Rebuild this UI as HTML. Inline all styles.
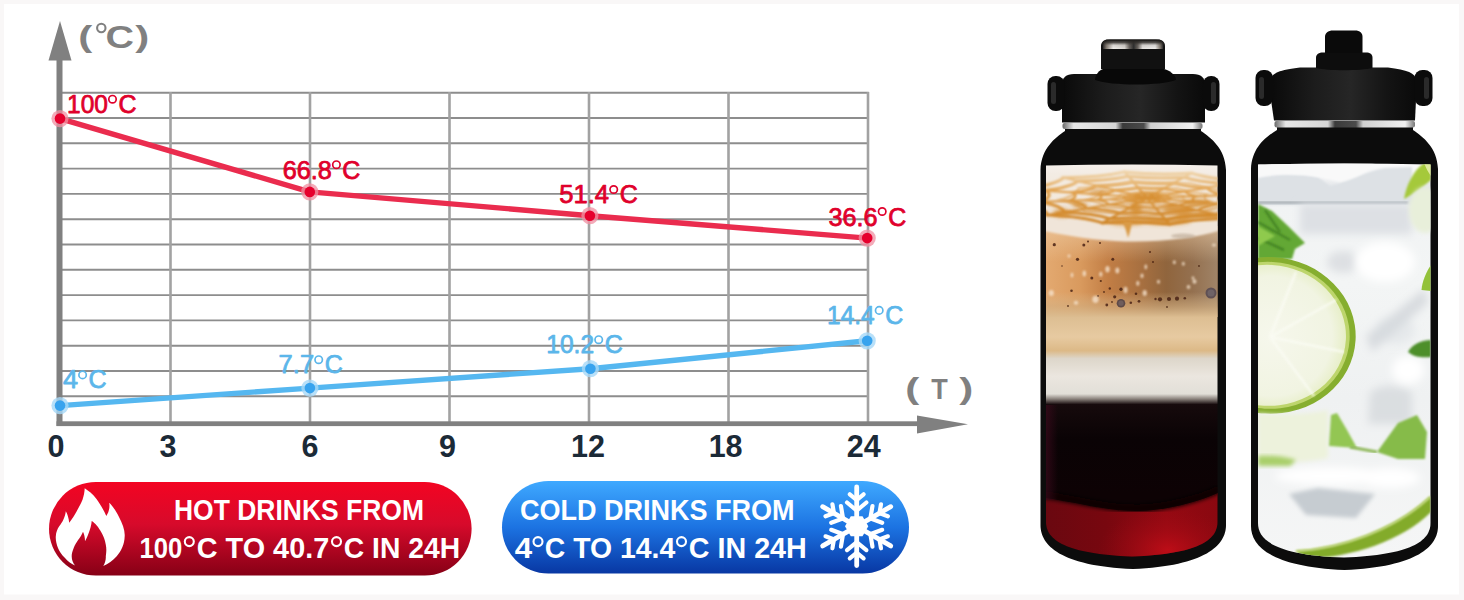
<!DOCTYPE html>
<html><head><meta charset="utf-8">
<style>
html,body{margin:0;padding:0;background:#f9f7f7;}
body{width:1464px;height:600px;overflow:hidden;font-family:"Liberation Sans",sans-serif;}
svg{display:block;position:absolute;left:0;top:0}
text{font-family:"Liberation Sans",sans-serif;font-weight:bold}
#labels text{font-weight:normal}
</style></head><body>
<svg width="1464" height="600" viewBox="0 0 1464 600">
<defs>
<linearGradient id="gRed" x1="0" y1="0" x2="0" y2="1">
<stop offset="0" stop-color="#f30422"/><stop offset="0.45" stop-color="#d70a2b"/><stop offset="1" stop-color="#860016"/>
</linearGradient>
<linearGradient id="gBlue" x1="0" y1="0" x2="0" y2="1">
<stop offset="0" stop-color="#3fa9ff"/><stop offset="0.5" stop-color="#1c73e2"/><stop offset="1" stop-color="#0837a3"/>
</linearGradient>
</defs>
<rect x="4" y="4" width="1455" height="590.5" fill="#ffffff"/>

<!-- GRID -->
<g id="grid" stroke="#8d8d8d" stroke-width="1.9" fill="none">
<path d="M60 92.7H868.8M60 118H868.8M60 143.3H868.8M60 168.6H868.8M60 193.9H868.8M60 219.2H868.8M60 244.5H868.8M60 269.8H868.8M60 295.1H868.8M60 320.4H868.8M60 345.7H868.8M60 371H868.8M60 396.3H868.8"/>
<path d="M170.5 92V424M310 92V424M449.5 92V424M589 92V424M728.5 92V424M868 92V424" stroke="#a2a2a2" stroke-width="2.6"/>
</g>
<!-- AXES -->
<g id="axes" fill="#808080">
<rect x="56.5" y="58" width="6" height="368"/>
<path d="M60 21L71.5 60.5H48.5Z"/>
<rect x="56.5" y="421.3" width="865" height="4.8"/>
<path d="M968 424.3L917 415.6V433.6Z"/>
</g>
<!-- LINES -->
<g id="lines" fill="none" stroke-linecap="round" stroke-linejoin="round">
<path d="M60 118.6L309.8 191.9L589.9 215.7L867.2 238.1" stroke="#ea2c4e" stroke-width="5.4"/>
<path d="M60 405.6L309.9 388.1L590.4 368.7L867.2 340.8" stroke="#55b7f0" stroke-width="5.4"/>
</g>
<g id="dots">
<g fill="#f08fa2" fill-opacity="0.75"><circle cx="60" cy="118.6" r="8.6"/><circle cx="309.8" cy="191.9" r="8.6"/><circle cx="589.9" cy="215.7" r="8.6"/><circle cx="867.2" cy="238.1" r="8.6"/></g>
<g fill="#e6002d"><circle cx="60" cy="118.6" r="5.3"/><circle cx="309.8" cy="191.9" r="5.3"/><circle cx="589.9" cy="215.7" r="5.3"/><circle cx="867.2" cy="238.1" r="5.3"/></g>
<g fill="#a6d8f7" fill-opacity="0.8"><circle cx="60" cy="405.6" r="8.6"/><circle cx="309.9" cy="388.1" r="8.6"/><circle cx="590.4" cy="368.7" r="8.6"/><circle cx="867.2" cy="340.8" r="8.6"/></g>
<g fill="#38a3ee"><circle cx="60" cy="405.6" r="5.3"/><circle cx="309.9" cy="388.1" r="5.3"/><circle cx="590.4" cy="368.7" r="5.3"/><circle cx="867.2" cy="340.8" r="5.3"/></g>
</g>
<!-- LABELS -->
<g id="labels" font-size="25" font-weight="normal" stroke-width="0.75" stroke-linejoin="round" style="font-weight:normal">
<g fill="#e0002b" stroke="#e0002b"><text x="67.0" y="112.5" textLength="40.9" lengthAdjust="spacingAndGlyphs">100</text><circle cx="112.5" cy="99.2" r="3.7" fill="none" stroke="#e0002b" stroke-width="1.7"/><text x="136.5" y="112.5" text-anchor="end">C</text></g>
<g fill="#e0002b" stroke="#e0002b"><text x="282.7" y="178.7" textLength="49.1" lengthAdjust="spacingAndGlyphs">66.8</text><circle cx="336.4" cy="164.7" r="3.7" fill="none" stroke="#e0002b" stroke-width="1.7"/><text x="360.4" y="178.7" text-anchor="end">C</text></g>
<g fill="#e0002b" stroke="#e0002b"><text x="559.3" y="203.4" textLength="49.8" lengthAdjust="spacingAndGlyphs">51.4</text><circle cx="613.7" cy="189.5" r="3.7" fill="none" stroke="#e0002b" stroke-width="1.7"/><text x="637.7" y="203.4" text-anchor="end">C</text></g>
<g fill="#e0002b" stroke="#e0002b"><text x="828.5" y="225.8" textLength="49.1" lengthAdjust="spacingAndGlyphs">36.6</text><circle cx="882.2" cy="211.5" r="3.7" fill="none" stroke="#e0002b" stroke-width="1.7"/><text x="906.2" y="225.8" text-anchor="end">C</text></g>
<g fill="#5bb6ea" stroke="#5bb6ea"><text x="63.0" y="387.7" textLength="15.0" lengthAdjust="spacingAndGlyphs">4</text><circle cx="82.6" cy="374.9" r="3.7" fill="none" stroke="#5bb6ea" stroke-width="1.7"/><text x="106.6" y="387.7" text-anchor="end">C</text></g>
<g fill="#5bb6ea" stroke="#5bb6ea"><text x="278.6" y="373.4" textLength="35.5" lengthAdjust="spacingAndGlyphs">7.7</text><circle cx="318.7" cy="359.7" r="3.7" fill="none" stroke="#5bb6ea" stroke-width="1.7"/><text x="342.7" y="373.4" text-anchor="end">C</text></g>
<g fill="#5bb6ea" stroke="#5bb6ea"><text x="546.3" y="353.4" textLength="47.8" lengthAdjust="spacingAndGlyphs">10.2</text><circle cx="598.7" cy="339.7" r="3.7" fill="none" stroke="#5bb6ea" stroke-width="1.7"/><text x="622.7" y="353.4" text-anchor="end">C</text></g>
<g fill="#5bb6ea" stroke="#5bb6ea"><text x="827.1" y="324.4" textLength="47.5" lengthAdjust="spacingAndGlyphs">14.4</text><circle cx="879.2" cy="310.4" r="3.7" fill="none" stroke="#5bb6ea" stroke-width="1.7"/><text x="903.2" y="324.4" text-anchor="end">C</text></g>
</g>
<g id="units" fill="#808080" font-size="29">
<text transform="translate(78.3,47) scale(1.45,1)">(</text>
<circle cx="101.3" cy="28" r="4.2" fill="none" stroke="#808080" stroke-width="2.1"/>
<text transform="translate(105.6,47.6) scale(1.36,1.1)">C</text>
<text transform="translate(135.2,47) scale(1.45,1)">)</text>
<text transform="translate(905.3,398.8) scale(1.45,1)">(</text>
<text transform="translate(931.2,399.2) scale(0.9,1)" font-size="30">T</text>
<text transform="translate(959.2,398.8) scale(1.45,1)">)</text>
</g>
<g id="ticks" fill="#1b2a37" font-size="30.5" text-anchor="middle">
<text x="56" y="456.5">0</text>
<text x="168" y="456.5">3</text>
<text x="310" y="456.5">6</text>
<text x="447.5" y="456.5">9</text>
<text x="588" y="456.5">12</text>
<text x="725.6" y="456.5">18</text>
<text x="863.8" y="456.5">24</text>
</g>
<!-- PILLS -->
<g id="pills">
<rect x="49" y="482" width="422.6" height="93.6" rx="46.8" fill="url(#gRed)"/>
<rect x="502" y="481" width="407" height="92.6" rx="46.3" fill="url(#gBlue)"/>
<g fill="#ffffff" font-size="29">
<text x="174" y="519.6" textLength="250" lengthAdjust="spacingAndGlyphs">HOT DRINKS FROM</text>
<text x="139.4" y="558" textLength="42.8" lengthAdjust="spacingAndGlyphs">100</text><circle cx="189.3" cy="541.6" r="4.5" fill="none" stroke="#ffffff" stroke-width="2.1"/><text x="196.8" y="558" textLength="132.4" lengthAdjust="spacingAndGlyphs">C TO 40.7</text><circle cx="336.5" cy="541.6" r="4.5" fill="none" stroke="#ffffff" stroke-width="2.1"/><text x="343.8" y="558" textLength="116.4" lengthAdjust="spacingAndGlyphs">C IN 24H</text>
<text x="520" y="519.6" textLength="274.6" lengthAdjust="spacingAndGlyphs">COLD DRINKS FROM</text>
<text x="514.8" y="558" textLength="17.4" lengthAdjust="spacingAndGlyphs">4</text><circle cx="538" cy="541.6" r="4.5" fill="none" stroke="#ffffff" stroke-width="2.1"/><text x="544.8" y="558" textLength="130.4" lengthAdjust="spacingAndGlyphs">C TO 14.4</text><circle cx="681.5" cy="541.6" r="4.5" fill="none" stroke="#ffffff" stroke-width="2.1"/><text x="688.8" y="558" textLength="118.0" lengthAdjust="spacingAndGlyphs">C IN 24H</text>
</g>
</g>
<g id="flame" fill="#ffffff">
<path d="M84.700 488.300C88 490.500 93 494 96.500 499C100 504 104 510.500 106.300 516C109 512 110 507 109.200 502.700C112 505 116 511 119 517C122.500 524 125 530 124.700 536C124.500 545 121 551 116.700 556.300C113 560.500 108 564 103.300 566C105 563 106 560 105.800 556.300C106.500 551 106.500 548 105.800 544.700C105 540 103.500 536 101.700 533C100 530 98.500 527.500 96.700 525.500C95 523.500 93.500 522 91.700 521C91.500 525 90 529.500 88.700 533C87.700 536 86.200 539 85 541.300C85 537.500 84.200 534 83 531.700C82 534.500 80 537.500 78.300 539.700C76.500 542.300 74.800 545 73.700 548C72.500 551 71.700 553.500 71.700 556.300C71.700 560 73 563 75 565.500C71 564 67.500 561 65 558C61.500 554.500 59 551 58 548C56.500 544 55.500 540 55.800 536.300C56 532 57.500 529 59.200 526.300C60.800 524 62.300 522 63.300 519.700C64.500 517 65.500 514.500 65.800 511.300C67.500 514 68.800 518.500 69.200 522.700C72 519.500 74.500 515.500 76.700 511.300C79 507 81 503.500 82.500 499.700C83.800 496 84.600 492 84.700 488.300Z"/>
</g>
<g id="snow" stroke="#ffffff" fill="none" stroke-linecap="round">
<polygon points="845,526.300 850.800,516.300 862.500,516.300 868.300,526.300 862.500,536.300 850.800,536.300" fill="#ffffff" stroke="none"/>
<g transform="rotate(0 856.700 526.300)"><path d="M856.700 526.300V487" stroke-width="4.800"/><path d="M847 502.500L856.700 510.500L866.400 502.500M849.800 494.300L856.700 500L863.600 494.300" stroke-width="4.200"/></g>
<g transform="rotate(60 856.700 526.300)"><path d="M856.700 526.300V487" stroke-width="4.800"/><path d="M847 502.500L856.700 510.500L866.400 502.500M849.800 494.300L856.700 500L863.600 494.300" stroke-width="4.200"/></g>
<g transform="rotate(120 856.700 526.300)"><path d="M856.700 526.300V487" stroke-width="4.800"/><path d="M847 502.500L856.700 510.500L866.400 502.500M849.800 494.300L856.700 500L863.600 494.300" stroke-width="4.200"/></g>
<g transform="rotate(180 856.700 526.300)"><path d="M856.700 526.300V487" stroke-width="4.800"/><path d="M847 502.500L856.700 510.500L866.400 502.500M849.800 494.300L856.700 500L863.600 494.300" stroke-width="4.200"/></g>
<g transform="rotate(240 856.700 526.300)"><path d="M856.700 526.300V487" stroke-width="4.800"/><path d="M847 502.500L856.700 510.500L866.400 502.500M849.800 494.300L856.700 500L863.600 494.300" stroke-width="4.200"/></g>
<g transform="rotate(300 856.700 526.300)"><path d="M856.700 526.300V487" stroke-width="4.800"/><path d="M847 502.500L856.700 510.500L866.400 502.500M849.800 494.300L856.700 500L863.600 494.300" stroke-width="4.200"/></g>
</g>
<defs>
<clipPath id="winL"><path d="M1046 165.5Q1132 163.5 1217.5 165.5V522C1217.5 540 1198 554 1132 556.5C1066 554 1046 540 1046 522Z"/></clipPath>
<clipPath id="winR"><path d="M1258 164.5Q1344 162.5 1430.5 164.5V523C1430.5 541 1411 555 1344 557.5C1277 555 1258 541 1258 523Z"/></clipPath>
<linearGradient id="coffee" gradientUnits="userSpaceOnUse" x1="0" y1="164" x2="0" y2="557">
<stop offset="0" stop-color="#f6f1ec"/>
<stop offset="0.025" stop-color="#f3ece4"/>
<stop offset="0.06" stop-color="#f3eadf"/>
<stop offset="0.15" stop-color="#f1e6da"/>
<stop offset="0.195" stop-color="#eee2d6"/>
<stop offset="0.205" stop-color="#d9a06c"/>
<stop offset="0.27" stop-color="#c88f5f"/>
<stop offset="0.34" stop-color="#a87850"/>
<stop offset="0.362" stop-color="#9b7352"/>
<stop offset="0.385" stop-color="#dcbd91"/>
<stop offset="0.44" stop-color="#e7caa1"/>
<stop offset="0.475" stop-color="#dcb987"/>
<stop offset="0.495" stop-color="#ddd6ca"/>
<stop offset="0.54" stop-color="#ebe6df"/>
<stop offset="0.585" stop-color="#e2dfd8"/>
<stop offset="0.598" stop-color="#8a827c"/>
<stop offset="0.612" stop-color="#160a0c"/>
<stop offset="0.7" stop-color="#0a0305"/>
<stop offset="0.84" stop-color="#0d0204"/>
<stop offset="1" stop-color="#0d0204"/>
</linearGradient>
<linearGradient id="redL" gradientUnits="userSpaceOnUse" x1="1046" y1="0" x2="1218" y2="0">
<stop offset="0" stop-color="#6a0810"/><stop offset="0.35" stop-color="#78070f"/><stop offset="0.7" stop-color="#940912"/><stop offset="1" stop-color="#8a0810"/>
</linearGradient>
<radialGradient id="redHi"><stop offset="0" stop-color="#c40e18" stop-opacity="0.85"/><stop offset="0.5" stop-color="#b00c16" stop-opacity="0.4"/><stop offset="1" stop-color="#a00a14" stop-opacity="0"/></radialGradient>
<linearGradient id="purpEdge" x1="0" y1="0" x2="1" y2="0"><stop offset="0" stop-color="#3a0a1c" stop-opacity="0.7"/><stop offset="1" stop-color="#3a0a1c" stop-opacity="0"/></linearGradient>
<linearGradient id="tanH" gradientUnits="userSpaceOnUse" x1="1046" y1="0" x2="1218" y2="0"><stop offset="0" stop-color="#e3a970"/><stop offset="0.2" stop-color="#d99a5e"/><stop offset="0.36" stop-color="#c27e45"/><stop offset="0.55" stop-color="#a87040"/><stop offset="0.7" stop-color="#90653d"/><stop offset="0.85" stop-color="#94704f"/><stop offset="1" stop-color="#a08468"/></linearGradient>
<linearGradient id="tanFade" gradientUnits="userSpaceOnUse" x1="0" y1="292" x2="0" y2="317"><stop offset="0" stop-color="#dcbd91" stop-opacity="0"/><stop offset="0.55" stop-color="#d3b184" stop-opacity="0.6"/><stop offset="1" stop-color="#dcbd91" stop-opacity="1"/></linearGradient>
<linearGradient id="tanTop" gradientUnits="userSpaceOnUse" x1="0" y1="226" x2="0" y2="262"><stop offset="0" stop-color="#f0cfa8" stop-opacity="0.6"/><stop offset="1" stop-color="#f0cfa8" stop-opacity="0"/></linearGradient>
<linearGradient id="tanShade" gradientUnits="userSpaceOnUse" x1="1046" y1="0" x2="1218" y2="0">
<stop offset="0" stop-color="#e0a060" stop-opacity="0.35"/><stop offset="0.45" stop-color="#c08858" stop-opacity="0"/><stop offset="1" stop-color="#5a3a28" stop-opacity="0.35"/>
</linearGradient>
<linearGradient id="ring" x1="0" y1="0" x2="1" y2="0">
<stop offset="0" stop-color="#6a6a6a"/><stop offset="0.08" stop-color="#e8e8e8"/><stop offset="0.38" stop-color="#d5d5d5"/><stop offset="0.43" stop-color="#3a3a3a"/><stop offset="0.58" stop-color="#4a4a4a"/><stop offset="0.63" stop-color="#d0d0d0"/><stop offset="0.93" stop-color="#f0f0f0"/><stop offset="1" stop-color="#777"/>
</linearGradient>
<linearGradient id="spoutBand" x1="0" y1="0" x2="1" y2="0"><stop offset="0" stop-color="#2a2a2a"/><stop offset="0.06" stop-color="#8a8178"/><stop offset="0.17" stop-color="#f2efec"/><stop offset="0.36" stop-color="#dcd8d3"/><stop offset="0.44" stop-color="#6a645f"/><stop offset="0.51" stop-color="#2c2c2c"/><stop offset="0.58" stop-color="#6a645f"/><stop offset="0.66" stop-color="#e8e5e2"/><stop offset="0.87" stop-color="#f0eeec"/><stop offset="0.95" stop-color="#8a8178"/><stop offset="1" stop-color="#2a2a2a"/></linearGradient>
<linearGradient id="spoutTop" x1="0" y1="0" x2="0" y2="1"><stop offset="0" stop-color="#1e1c1a" stop-opacity="1"/><stop offset="0.3" stop-color="#2e2b28" stop-opacity="0.85"/><stop offset="0.6" stop-color="#3a3632" stop-opacity="0.15"/><stop offset="1" stop-color="#3a3632" stop-opacity="0"/></linearGradient>
<linearGradient id="capShade" x1="0" y1="0" x2="1" y2="0">
<stop offset="0" stop-color="#0a0a0a"/><stop offset="0.3" stop-color="#1c1c1c"/><stop offset="0.55" stop-color="#262626"/><stop offset="0.8" stop-color="#141414"/><stop offset="1" stop-color="#0a0a0a"/>
</linearGradient>
<filter id="b05" x="-20%" y="-20%" width="140%" height="140%"><feGaussianBlur stdDeviation="0.5"/></filter>
<filter id="b1" x="-20%" y="-20%" width="140%" height="140%"><feGaussianBlur stdDeviation="1"/></filter>
<filter id="b2" x="-20%" y="-20%" width="140%" height="140%"><feGaussianBlur stdDeviation="2"/></filter>
<filter id="b4" x="-30%" y="-30%" width="160%" height="160%"><feGaussianBlur stdDeviation="4"/></filter>
<filter id="b8" x="-40%" y="-40%" width="180%" height="180%"><feGaussianBlur stdDeviation="8"/></filter>
</defs>

<!-- LEFT BOTTLE -->
<g id="bottleL">
<!-- body -->
<path d="M1065 128H1201V131C1211 138 1225 148 1226 170V525C1226 545 1206 566 1133 569C1060 566 1040.500 545 1040.500 525V170C1041.500 148 1055 138 1065 131Z" fill="#0c0c0c"/>
<!-- window -->
<g clip-path="url(#winL)">
<rect x="1040" y="160" width="190" height="400" fill="url(#coffee)"/>
<rect x="1040" y="228" width="190" height="89" fill="url(#tanH)"/>
<rect x="1040" y="226" width="190" height="36" fill="url(#tanTop)"/>
<rect x="1040" y="292" width="190" height="25" fill="url(#tanFade)"/>
<g id="foamtop">
<defs><linearGradient id="car" gradientUnits="userSpaceOnUse" x1="0" y1="172" x2="0" y2="224"><stop offset="0" stop-color="#efd3a8"/><stop offset="0.35" stop-color="#e2a452"/><stop offset="1" stop-color="#cf8528"/></linearGradient></defs>
<path d="M1040 200V230C1080 238.500 1110 241.500 1134 241.500C1170 241.500 1200 237 1225 229V200Z" fill="#f0e5d9" filter="url(#b1)"/>

<g fill="none" stroke="url(#car)" stroke-linecap="round" filter="url(#b1)">
<path d="M1169.5 199.7Q1163.9 200.4 1162.4 201.8Q1155.7 201.8 1151.1 202.8Q1145.2 202.2 1138.8 202.6Q1135.1 201.4 1128.6 201.1Q1128.3 199.8 1123.4 198.8Q1126.4 197.6 1124.5 196.3Q1130.1 195.6 1131.6 194.2Q1138.3 194.2 1142.9 193.2Q1148.8 193.8 1155.2 193.4Q1158.9 194.6 1165.4 194.9Q1165.7 196.2 1170.6 197.2Q1167.6 198.4 1169.5 199.7" stroke-width="2.6"/>
<path d="M1194.3 201.5Q1182.5 203.1 1179.4 205.9Q1165.3 206.0 1155.7 208.1Q1143.2 206.8 1129.7 207.7Q1122.1 205.2 1108.4 204.6Q1107.7 201.7 1097.4 199.8Q1103.8 197.2 1099.7 194.5Q1111.5 192.9 1114.6 190.1Q1128.7 190.0 1138.3 187.9Q1150.8 189.2 1164.3 188.3Q1171.9 190.8 1185.6 191.4Q1186.3 194.3 1196.6 196.2Q1190.2 198.8 1194.3 201.5" stroke-width="2.4"/>
<path d="M1221.4 203.5Q1202.8 206.0 1197.9 210.4Q1175.7 210.6 1160.7 213.9Q1141.0 211.9 1119.8 213.2Q1107.9 209.4 1086.3 208.4Q1085.2 203.9 1069.0 200.8Q1079.2 196.8 1072.6 192.5Q1091.2 190.0 1096.1 185.6Q1118.3 185.4 1133.3 182.1Q1153.0 184.1 1174.2 182.8Q1186.1 186.6 1207.7 187.6Q1208.8 192.1 1225.0 195.2Q1214.8 199.2 1221.4 203.5" stroke-width="2.8"/>
<path d="M1248.5 205.6Q1223.0 208.9 1216.3 214.9Q1186.2 215.2 1165.7 219.7Q1138.8 216.9 1110.0 218.7Q1093.7 213.5 1064.2 212.2Q1062.8 206.0 1040.6 201.8Q1054.5 196.3 1045.5 190.4Q1071.0 187.1 1077.7 181.1Q1107.8 180.8 1128.3 176.3Q1155.2 179.1 1184.0 177.3Q1200.3 182.5 1229.8 183.8Q1231.2 190.0 1253.4 194.2Q1239.5 199.7 1248.5 205.6" stroke-width="3.2"/>
<path d="M1268.7 207.1Q1238.2 211.1 1230.2 218.3Q1194.0 218.6 1169.4 224.1Q1137.2 220.7 1102.6 222.9Q1083.0 216.6 1047.6 215.0Q1045.9 207.6 1019.3 202.6Q1036.0 196.0 1025.3 188.9Q1055.8 184.9 1063.8 177.7Q1100.0 177.4 1124.6 171.9Q1156.8 175.3 1191.4 173.1Q1211.0 179.4 1246.4 181.0Q1248.1 188.4 1274.7 193.4Q1258.0 200.0 1268.7 207.1" stroke-width="3.0"/>
<path d="M1147 198L1271.0 207.2M1147 198L1231.8 218.7M1147 198L1169.8 224.5M1147 198L1101.7 223.3M1147 198L1045.8 215.3M1147 198L1017.0 202.7M1147 198L1023.0 188.8M1147 198L1062.2 177.3M1147 198L1124.2 171.5M1147 198L1192.3 172.7M1147 198L1248.2 180.7M1147 198L1277.0 193.3" stroke-width="2.2"/>
</g>
<g fill="none" stroke="url(#car)" stroke-linecap="round" filter="url(#b1)" opacity="0.6"><path d="M1170.0 205.1Q1156.8 204.9 1145.3 206.2Q1135.8 204.4 1122.8 203.9Q1121.4 201.4 1113.1 199.3Q1120.4 197.2 1120.6 194.6Q1133.2 193.9 1141.9 191.9Q1153.9 193.0 1166.9 192.5Q1172.8 194.9 1184.1 196.2Q1181.0 198.7 1185.3 201.2Q1174.7 202.7 1170.0 205.1" stroke-width="2.0"/><path d="M1183.3 209.2Q1161.4 208.9 1142.2 211.0Q1126.3 208.0 1104.7 207.2Q1102.3 202.9 1088.5 199.6Q1100.6 196.0 1101.0 191.7Q1122.0 190.4 1136.5 187.2Q1156.6 188.9 1178.2 188.2Q1188.0 192.1 1206.8 194.3Q1201.7 198.5 1208.8 202.6Q1191.2 205.2 1183.3 209.2" stroke-width="2.2"/><path d="M1198.4 213.8Q1166.6 213.4 1138.6 216.5Q1115.5 212.1 1084.2 210.9Q1080.6 204.7 1060.5 199.8Q1078.1 194.6 1078.7 188.3Q1109.3 186.6 1130.3 181.8Q1159.6 184.3 1191.1 183.4Q1205.3 189.0 1232.7 192.2Q1225.2 198.3 1235.5 204.2Q1209.9 208.0 1198.4 213.8" stroke-width="2.6"/></g>
<g fill="#d48a2c" filter="url(#b2)" opacity="0.75">
<ellipse cx="1178" cy="209" rx="15" ry="4.5"/>
<ellipse cx="1199" cy="203" rx="13" ry="4"/>
<ellipse cx="1127" cy="222" rx="18" ry="3.5"/>
<ellipse cx="1165" cy="221" rx="26" ry="3.5"/>
<ellipse cx="1147" cy="197" rx="14" ry="4"/>
<ellipse cx="1098" cy="192" rx="9" ry="2.5"/>
<ellipse cx="1062" cy="213" rx="9" ry="4"/>
<ellipse cx="1207" cy="215" rx="12" ry="3.5"/>
<ellipse cx="1136" cy="209" rx="6" ry="7"/>
<ellipse cx="1080" cy="205" rx="8" ry="2.5"/><ellipse cx="1188" cy="216" rx="12" ry="3"/>
</g>
<path d="M1123 222Q1127 233 1128 238Q1130 233 1132 222Z" fill="#d99a45" filter="url(#b1)"/>
<ellipse cx="1183" cy="236" rx="12" ry="2.500" fill="#b9a692" opacity="0.6" filter="url(#b1)"/>
</g>
<g id="bubbles">
<g fill="#4a2414" opacity="0.85" filter="url(#b05)"><circle cx="1054.3" cy="244.7" r="1.6"/><circle cx="1083.8" cy="245" r="1.5"/><circle cx="1077.5" cy="259.3" r="1.6"/><circle cx="1112.8" cy="259.3" r="1.5"/><circle cx="1091.8" cy="278" r="1.5"/><circle cx="1100.8" cy="281" r="1.1"/><circle cx="1071.5" cy="290.8" r="1.3"/><circle cx="1109.8" cy="288.5" r="1.2"/><circle cx="1121" cy="289.3" r="1.7"/><circle cx="1114.7" cy="296.8" r="1.6"/><circle cx="1106.8" cy="305" r="1.4"/><circle cx="1130.8" cy="302.8" r="1.3"/><circle cx="1139" cy="301.3" r="1.4"/><circle cx="1136" cy="293.8" r="1.3"/><circle cx="1155.5" cy="299" r="1.2"/><circle cx="1160" cy="299.3" r="2.1"/><circle cx="1169" cy="299" r="2.1"/><circle cx="1177" cy="298.7" r="2.1"/><circle cx="1184.8" cy="298.3" r="1.3"/><circle cx="1088" cy="241.5" r="1"/><circle cx="1100" cy="243" r="1"/><circle cx="1150" cy="252" r="1"/><circle cx="1153" cy="262" r="1"/><circle cx="1104" cy="292" r="0.9"/><circle cx="1098" cy="296" r="0.9"/><circle cx="1112" cy="302" r="0.9"/><circle cx="1068" cy="306" r="0.9"/><circle cx="1167" cy="307" r="0.9"/><circle cx="1199" cy="266" r="0.9"/><circle cx="1062" cy="266" r="0.8"/></g>
<g fill="#f5e2cc" opacity="0.8" filter="url(#b1)"><ellipse cx="1107.5" cy="269.3" rx="2.2" ry="3.2"/><ellipse cx="1117.3" cy="270.5" rx="2" ry="3"/><ellipse cx="1084.3" cy="273.5" rx="1.8" ry="3"/><ellipse cx="1100.8" cy="274.3" rx="1.6" ry="2.8"/><ellipse cx="1095.5" cy="299.3" rx="3.2" ry="3.6"/><ellipse cx="1125.5" cy="290" rx="2" ry="3.2"/><ellipse cx="1144.7" cy="293" rx="2.2" ry="3"/><ellipse cx="1137.8" cy="283.3" rx="1.6" ry="2.6"/><ellipse cx="1142" cy="275.8" rx="1.6" ry="2.4"/><ellipse cx="1145.8" cy="266.8" rx="1.4" ry="2.6"/><ellipse cx="1158.5" cy="281.8" rx="1.6" ry="2"/><ellipse cx="1194.5" cy="281.5" rx="2" ry="2.2"/><ellipse cx="1193" cy="278" rx="1.4" ry="1.8"/><ellipse cx="1214" cy="245" rx="2" ry="1.6"/><ellipse cx="1188.5" cy="287" rx="1.8" ry="2"/><ellipse cx="1051.3" cy="293" rx="2.6" ry="3"/><ellipse cx="1076" cy="302.8" rx="2.2" ry="2"/><ellipse cx="1174.3" cy="262.3" rx="1.5" ry="2"/><ellipse cx="1183.3" cy="263.8" rx="1.5" ry="2"/><ellipse cx="1069" cy="256" rx="1.5" ry="1.8"/><ellipse cx="1072" cy="275" rx="1.4" ry="2.6"/></g>
<circle cx="1121" cy="303.2" r="4.300" fill="#5e4a48"/><circle cx="1121" cy="303.2" r="2.600" fill="#6f5d5c"/><circle cx="1211" cy="293" r="5.500" fill="#5f5054"/><circle cx="1211" cy="293" r="3.500" fill="#6e6266"/>
</g>
<!-- red bottom -->
<path d="M1040 497C1080 503 1110 512 1140 511C1170 510 1200 501 1220 492V560H1040Z" fill="url(#redL)"/>
<ellipse cx="1168" cy="550" rx="70" ry="42" fill="url(#redHi)"/>
<path d="M1040 494C1080 500 1110 509 1140 508C1170 507 1200 498 1220 489" stroke="#0d0204" stroke-width="7" fill="none" filter="url(#b2)"/>
<rect x="1046" y="405" width="12" height="95" fill="url(#purpEdge)"/>
</g>
<!-- ring -->
<rect x="1062.500" y="123" width="140" height="6" rx="2" fill="url(#ring)"/>
<!-- cap -->
<path d="M1062 122.500V84C1062 78 1066 74 1074 74H1193C1201 74 1205 78 1205 84V122.500Z" fill="url(#capShade)"/>
<rect x="1047.500" y="76" width="17" height="35" rx="8" fill="#0b0b0b"/>
<rect x="1203" y="76" width="16.500" height="35" rx="8" fill="#0b0b0b"/>
<rect x="1051" y="82" width="5" height="22" rx="2.500" fill="#2a2a2a"/>
<rect x="1211" y="82" width="5" height="22" rx="2.500" fill="#2a2a2a"/>
<path d="M1095 80C1095 74 1100 70 1103 69H1164C1168 70 1176 74 1176 80C1160 86 1112 86 1095 80Z" fill="#080808"/>
<path d="M1101 69V46C1101 42 1104 39.500 1108 39.500H1158C1162 39.500 1165 42 1165 46V69Z" fill="#111"/>
<path d="M1103 49V45.500Q1103 41 1110 41H1156Q1163 41 1163 45.500V49Z" fill="url(#spoutBand)" filter="url(#b05)"/>
<path d="M1102 49V45Q1102 39.500 1110 39.500H1156Q1164 39.500 1164 45V49Z" fill="url(#spoutTop)"/>
</g>

<!-- RIGHT BOTTLE -->
<g id="bottleR">
<path d="M1277 126H1413V130C1423 137 1437 147 1438 169V526C1438 546 1418 567 1344.500 570C1271 567 1251 546 1251 526V169C1252 147 1266 137 1277 130Z" fill="#0c0c0c"/>
<g clip-path="url(#winR)">

<defs>
<linearGradient id="iceBg" gradientUnits="userSpaceOnUse" x1="0" y1="164" x2="0" y2="557">
<stop offset="0" stop-color="#fbfbfb"/><stop offset="0.03" stop-color="#f4f5f6"/><stop offset="0.06" stop-color="#e3e6e9"/><stop offset="0.095" stop-color="#dfe2e5"/><stop offset="0.11" stop-color="#f1f3f4"/><stop offset="0.3" stop-color="#f3f5f5"/><stop offset="0.6" stop-color="#eff1f2"/><stop offset="1" stop-color="#f5f6f6"/>
</linearGradient>
<radialGradient id="limeFlesh" gradientUnits="userSpaceOnUse" cx="1272" cy="336" r="80"><stop offset="0" stop-color="#f6f7ec"/><stop offset="0.75" stop-color="#f1f4e2"/><stop offset="1" stop-color="#e3ecbd"/></radialGradient>
</defs>
<rect x="1250" y="160" width="190" height="400" fill="url(#iceBg)"/>
<!-- top ice cubes -->
<path d="M1258 178C1275 174 1300 174 1318 177L1330 186C1350 182 1362 172 1385 168L1412 167V204H1258Z" fill="#dde1e5" filter="url(#b1)"/>
<path d="M1258 163H1375C1368 170 1358 178 1340 182L1318 177C1300 173 1275 173 1258 177Z" fill="#f9f9f9" filter="url(#b1)"/>
<rect x="1258" y="201.500" width="150" height="2.200" fill="#9ea6ab" filter="url(#b1)"/>
<!-- ice shadows -->
<rect x="1300" y="204" width="112" height="30" fill="#dde0e4" filter="url(#b4)"/>
<g fill="#d8dbdf" filter="url(#b4)">
<path d="M1366 336L1425 288L1428 303L1372 352Z"/>
<path d="M1370 392C1380 384 1400 384 1412 392V424H1368Z" opacity="0.9"/>
<ellipse cx="1343" cy="262" rx="16" ry="11" opacity="0.8"/>
<ellipse cx="1395" cy="330" rx="20" ry="14" opacity="0.45"/>
</g>
<g fill="#ffffff" filter="url(#b4)">
<ellipse cx="1385" cy="262" rx="30" ry="20"/>
<ellipse cx="1408" cy="370" rx="16" ry="14"/>
<ellipse cx="1330" cy="476" rx="55" ry="9"/>
<ellipse cx="1390" cy="478" rx="30" ry="10"/>
</g>
<path d="M1289 494L1318 488L1375 494L1356 518L1306 515Z" fill="#c6ccd1" filter="url(#b2)"/>
<!-- lime top right -->
<path d="M1404 199C1406 185 1414 170 1424 163H1431V180C1424 186 1414 194 1404 199Z" fill="#a5c93a" filter="url(#b1)"/>
<ellipse cx="1425" cy="210" rx="16" ry="23" fill="#e8efda" filter="url(#b2)"/>
<path d="M1424 163H1431V176C1428 172 1426 168 1424 163Z" fill="#dfeaa0"/>
<!-- mint leaf top-left -->
<path d="M1258 204L1272 211L1288 226L1305 243L1295 249L1292 259H1258Z" fill="#63a834" filter="url(#b1)"/>
<path d="M1258 222L1290 240M1258 238L1284 250M1265 210L1280 232" stroke="#3f7f22" stroke-width="2" fill="none" filter="url(#b1)"/>
<path d="M1258 226L1275 236L1258 246Z" fill="#8fca4e" filter="url(#b1)"/>
<!-- lime slice -->
<g transform="rotate(3.3 1269.7 335.4)">
<ellipse cx="1269.7" cy="335.4" rx="86" ry="78.3" fill="#86ae2f"/>
<ellipse cx="1268.7" cy="335.4" rx="81" ry="73.5" fill="#bdd56c"/>
<ellipse cx="1268" cy="335.4" rx="78" ry="70.5" fill="url(#limeFlesh)"/>
</g>
<g stroke="#fbfcf4" stroke-width="2.500" opacity="0.8" filter="url(#b1)"><path d="M1270 337L1336 300M1270 337L1344 352M1270 337L1314 396M1270 337L1296 272"/></g>
<!-- pale wedge -->
<path d="M1258 413C1280 416 1310 414 1328 410V458C1310 462 1280 464 1258 462Z" fill="#edf2dc" filter="url(#b2)"/>
<path d="M1258 456C1270 455 1285 456 1296 460L1290 466H1258Z" fill="#a9cf6a" filter="url(#b2)"/>
<!-- mint leaves lower -->
<path d="M1331 415L1337 413L1347 430L1357 448L1329 446Z" fill="#93c653" filter="url(#b1)"/>
<path d="M1377 452L1398 423L1417 415L1427 432L1425 459H1398Z" fill="#86bb4a" filter="url(#b1)"/>
<path d="M1350 447L1377 452" stroke="#8fb85a" stroke-width="3" filter="url(#b1)"/>
<!-- small leaves right -->
<path d="M1431 265C1426 272 1422 282 1421.500 290L1431 291Z" fill="#93c23a"/>
<path d="M1408 352C1412 344 1422 340 1431 340V357C1422 358 1414 357 1408 352Z" fill="#4d8f2c" filter="url(#b1)"/>
<!-- bottom rind -->
<path d="M1296 551C1340 549 1395 530 1431 496V512C1402 541 1352 557 1306 559Z" fill="#83ab2b" filter="url(#b1)"/>
<path d="M1296 551C1340 549 1395 530 1430 497" stroke="#b9d36a" stroke-width="2" fill="none" filter="url(#b1)"/>

</g>
<rect x="1274.500" y="121" width="140.500" height="6.500" rx="2" fill="url(#ring)"/>
<path d="M1274 120.500L1271 100V80C1271 73 1280 70 1300 67.500H1388C1407 70 1416 73 1416 80V100L1415 120.500Z" fill="url(#capShade)"/>
<rect x="1255.500" y="70" width="17.500" height="36" rx="8" fill="#0b0b0b"/>
<rect x="1414.500" y="70" width="18" height="36" rx="8" fill="#0b0b0b"/>
<rect x="1259" y="77" width="5" height="22" rx="2.500" fill="#2a2a2a"/>
<rect x="1424" y="77" width="5" height="22" rx="2.500" fill="#2a2a2a"/>
<path d="M1316 68V58C1316 54 1319 52.500 1323 52.500H1366C1370 52.500 1372.500 54 1372.500 58V68C1360 71 1328 71 1316 68Z" fill="#0d0d0d"/>
<path d="M1325 53V37C1325 33 1328 30.500 1333 30.500H1355C1360 30.500 1362.500 33 1362.500 37V53Z" fill="#0a0a0a"/>
</g>

</svg>
</body></html>
